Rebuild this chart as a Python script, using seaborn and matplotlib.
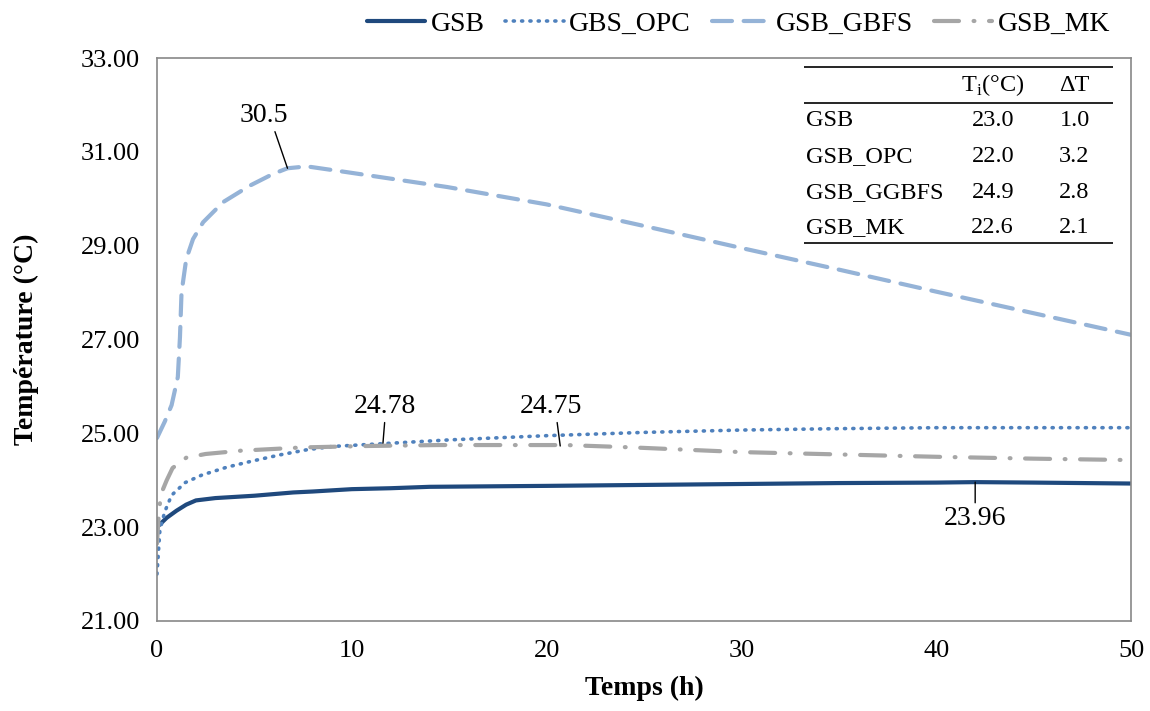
import numpy as np
import pandas as pd
import matplotlib
matplotlib.use("Agg")
import matplotlib.pyplot as plt
import seaborn as sns

# temps (h) et températures
t_gsb = [0, 0.5, 1, 1.5, 2, 3, 5, 7, 8, 10, 12, 14, 20, 25, 30, 35, 40, 42, 45, 50]
T_gsb = [23.0, 23.2, 23.35, 23.48, 23.57, 23.62, 23.67, 23.74, 23.76, 23.81, 23.83, 23.86,
         23.88, 23.9, 23.92, 23.94, 23.95, 23.96, 23.95, 23.93]

t_opc = [0, 0.15, 0.4, 0.75, 1.45, 2.3, 3.6, 4.9, 6.3, 7.7, 9.0, 11.6, 15, 20, 25, 30, 35, 40, 45, 50]
T_opc = [22.0, 22.94, 23.33, 23.68, 23.95, 24.11, 24.28, 24.41, 24.54, 24.65, 24.72, 24.78,
         24.86, 24.95, 25.02, 25.07, 25.1, 25.12, 25.12, 25.12]

t_ggbfs = [0, 0.4, 0.75, 1.07, 1.18, 1.26, 1.5, 1.85, 2.37, 3.4, 4.77, 5.96, 6.7, 7.7, 9.7,
           14.9, 20, 25, 30, 35, 40, 45, 50]
T_ggbfs = [24.9, 25.25, 25.6, 26.2, 27.05, 28.0, 28.71, 29.14, 29.5, 29.93, 30.28, 30.53, 30.65,
           30.69, 30.57, 30.25, 29.88, 29.42, 28.95, 28.49, 28.02, 27.56, 27.1]

t_mk = [0, 0.05, 0.1, 0.2, 0.5, 0.8, 1.5, 2.5, 4.3, 7.5, 10.8, 14.4, 18, 21, 24.4, 30, 35, 40, 45, 50]
T_mk = [22.65, 23.0, 23.3, 23.7, 24.0, 24.26, 24.48, 24.56, 24.63, 24.7, 24.73, 24.75, 24.75,
        24.75, 24.7, 24.6, 24.55, 24.5, 24.46, 24.43]

labels = ["GSB", "GBS_OPC", "GSB_GBFS", "GSB_MK"]
colors = ["#1F497D", "#4F81BD", "#95B3D7", "#A6A6A6"]

# tableau
tab_names = ["GSB", "GSB_OPC", "GSB_GGBFS", "GSB_MK"]
tab_ti = ["23.0", "22.0", "24.9", "22.6"]
tab_dt = ["1.0", "3.2", "2.8", "2.1"]

sns.set_theme(style="white")
plt.rcParams["font.family"] = ["Liberation Serif", "DejaVu Serif"]
plt.rcParams["text.color"] = "black"
plt.rcParams["axes.labelcolor"] = "black"

fig = plt.figure(figsize=(11.5, 7.11), dpi=100)
ax = fig.add_axes([0.1365, 0.1266, 0.847, 0.7918])

series = [(t_gsb, T_gsb), (t_opc, T_opc), (t_ggbfs, T_ggbfs), (t_mk, T_mk)]
styles = [dict(lw=3, ls="-"),
          dict(lw=2.6, ls=(0, (0.3, 2.0)), dash_capstyle="round"),
          dict(lw=3, ls=(0, (4.8, 2.8)), dash_capstyle="round"),
          dict(lw=3, ls=(0, (6, 3.5, 0.2, 3.5)), dash_capstyle="round")]
for (tx, ty), lab, c, st in zip(series, labels, colors, styles):
    df = pd.DataFrame({"t": tx, "T": ty})
    sns.lineplot(data=df, x="t", y="T", ax=ax, color=c, label=lab, **st)

ax.set_xlim(0, 50)
ax.set_ylim(21, 33)
ax.set_xticks(np.arange(0, 51, 10))
ax.set_yticks(np.arange(21, 33.1, 2))
ax.set_yticklabels([f"{v:.2f}" for v in np.arange(21, 33.1, 2)])
for s in ax.spines.values():
    s.set_color("#888888")
    s.set_linewidth(1.2)
ax.tick_params(axis="both", direction="out", length=8, width=1.2, color="#888888",
               labelsize=19, pad=4, labelcolor="black")
ax.tick_params(axis="x", pad=6)
ax.set_xlabel("Temps (h)", fontsize=20, fontweight="bold", labelpad=10)
ax.set_ylabel("Température (°C)", fontsize=20, fontweight="bold", labelpad=30)

leg = ax.legend(loc="lower right", bbox_to_anchor=(1.0, 1.0), ncol=4, frameon=False,
                fontsize=20, handlelength=2.1, handletextpad=0.2, columnspacing=0.75,
                borderaxespad=0.35)

# annotations
def note(txt, xp, yp, xt, yt, x0, y0):
    ax.annotate(txt, xy=(xp, yp), xytext=(xt, yt), fontsize=20, ha="center", va="bottom",
                arrowprops=dict(arrowstyle="-", color="black", lw=1, shrinkA=0, shrinkB=0,
                                relpos=(0.5 + x0, y0)))

note("30.5", 6.7, 30.65, 5.5, 31.5, 0.2, 0.0)
note("24.78", 11.6, 24.79, 11.7, 25.3, 0.0, 0.0)
note("24.75", 20.7, 24.73, 20.2, 25.3, 0.1, 0.0)
ax.annotate("23.96", xy=(42.0, 23.96), xytext=(42.0, 23.45), fontsize=20, ha="center", va="top",
            arrowprops=dict(arrowstyle="-", color="black", lw=1, shrinkA=0, shrinkB=0,
                            relpos=(0.5, 1.0)))

# tableau en haut à droite
tx0, tx1 = 33.2, 49.1
for yv in (32.80, 32.05, 29.06):
    ax.plot([tx0, tx1], [yv, yv], color="black", lw=1.2, solid_capstyle="butt")
fs = 17.5
ax.text(42.9, 32.42, r"T$_\mathregular{i}$(°C)", fontsize=fs, ha="center", va="center")
ax.text(47.1, 32.42, "ΔT", fontsize=fs, ha="center", va="center")
row_y = [31.66, 30.90, 30.14, 29.39]
for yv, n, ti, dt in zip(row_y, tab_names, tab_ti, tab_dt):
    ax.text(tx0 + 0.1, yv, n, fontsize=fs, ha="left", va="center")
    ax.text(42.9, yv, ti, fontsize=fs, ha="center", va="center")
    ax.text(47.1, yv, dt, fontsize=fs, ha="center", va="center")

fig.savefig("out.png", dpi=100)
